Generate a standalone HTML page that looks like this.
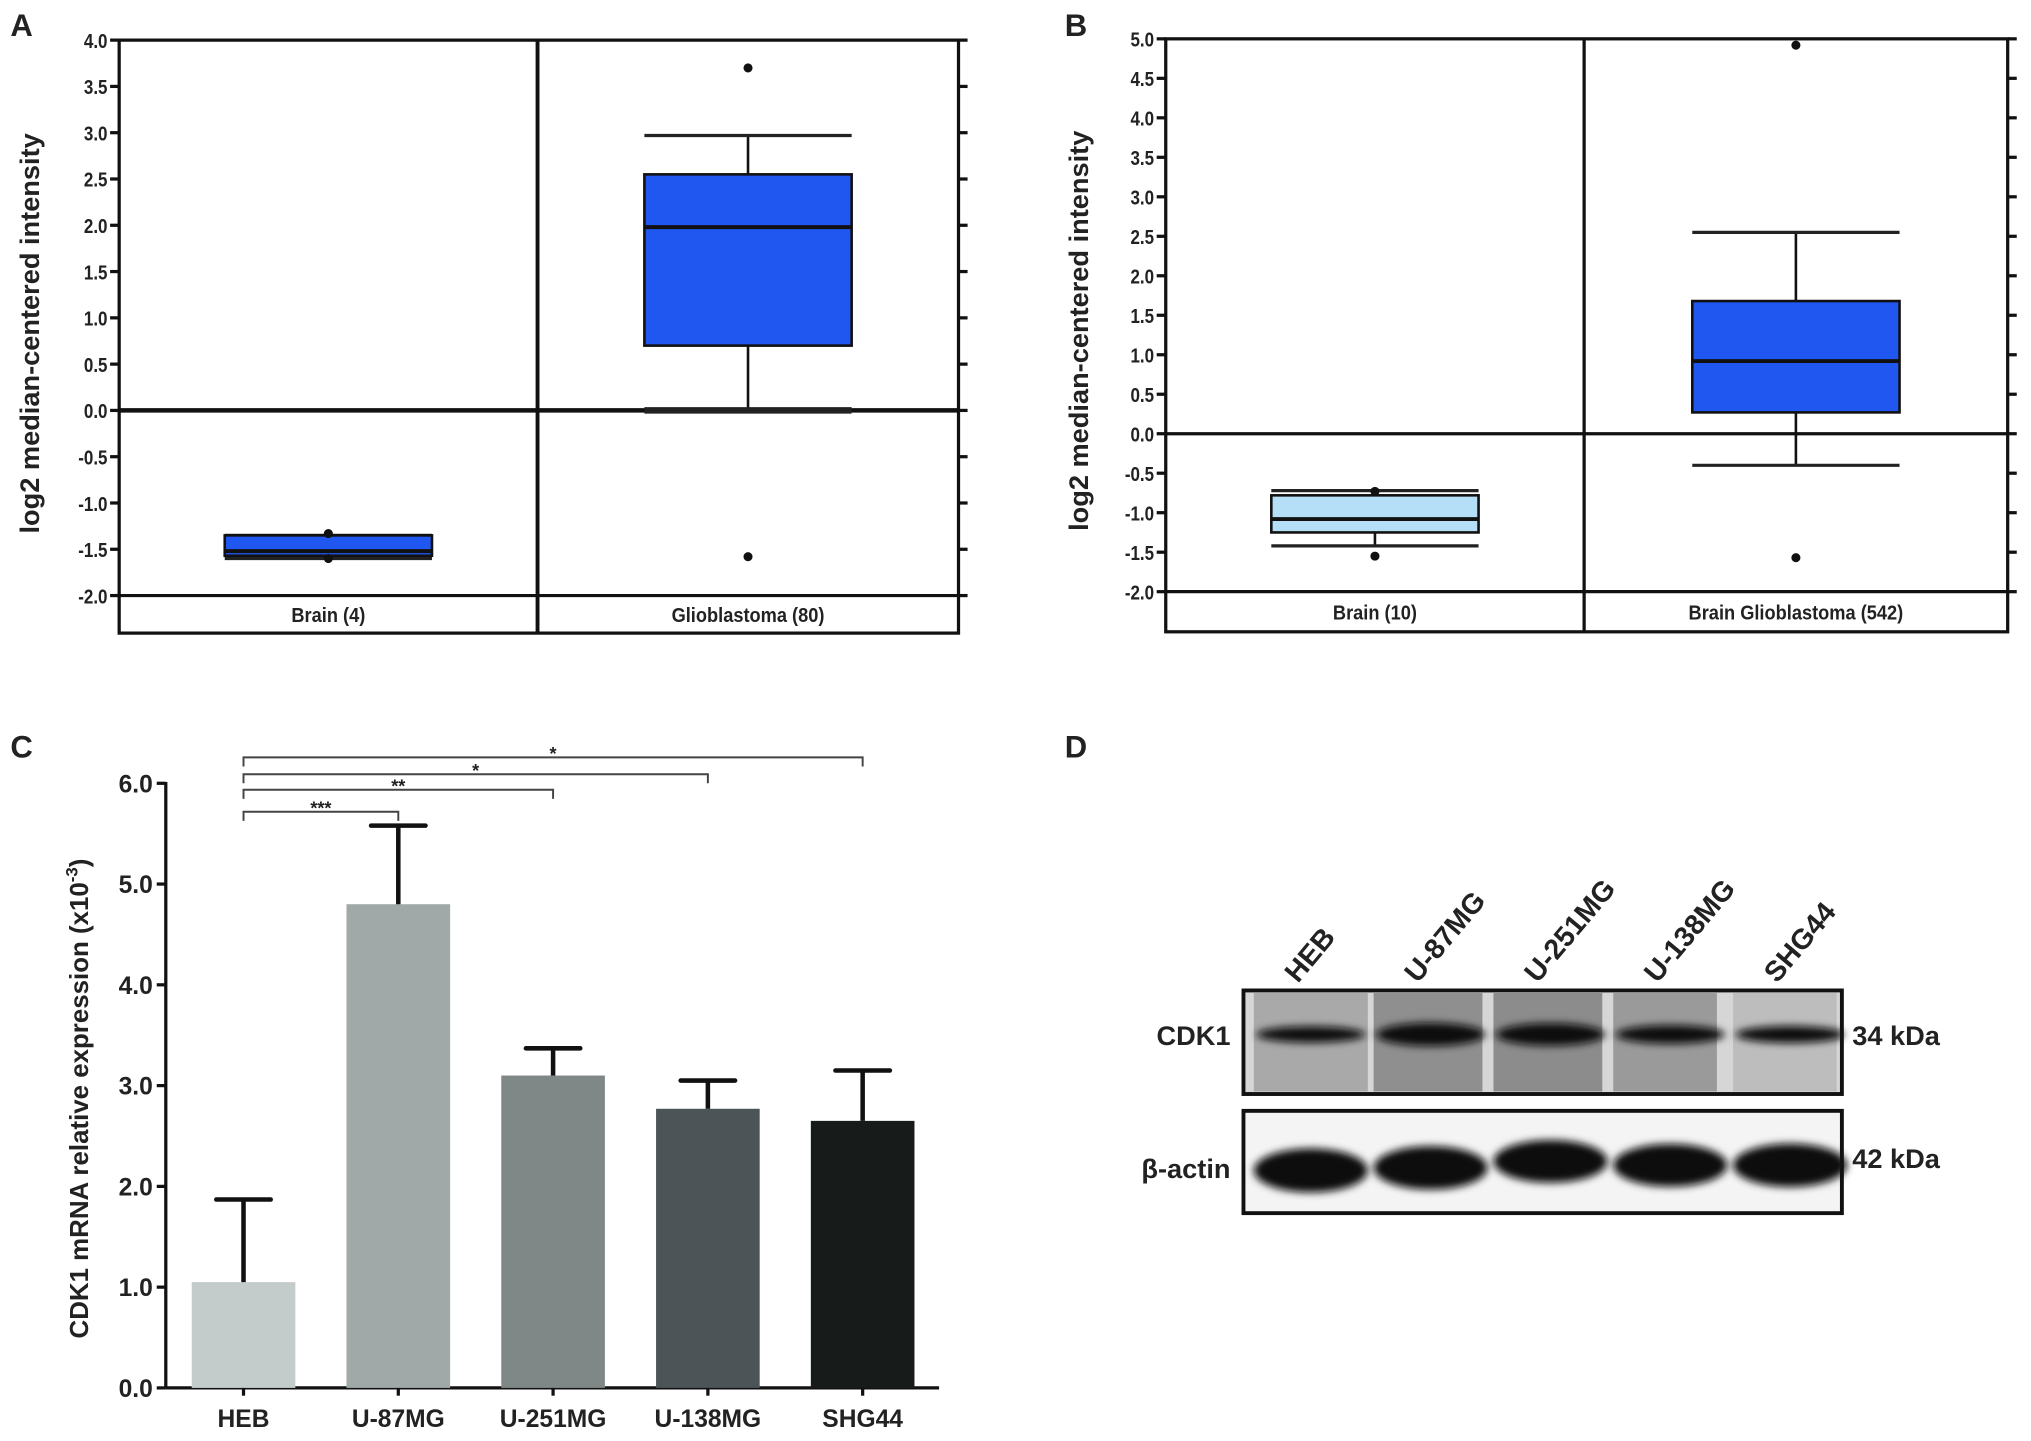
<!DOCTYPE html>
<html><head><meta charset="utf-8">
<style>
html,body{margin:0;padding:0;background:#fff;}
svg{display:block;font-family:"Liberation Sans",sans-serif;}
text{font-weight:bold;fill:#222;}
</style></head>
<body>
<svg id="fig" width="2031" height="1441" viewBox="0 0 1568 1113" preserveAspectRatio="none" xmlns="http://www.w3.org/2000/svg">
<g id="root"></g>
</svg>
<script>
// Panel A data
const aCats = ["Brain (4)", "Glioblastoma (80)"];
const aQ1 = [-1.57, 0.70];
const aQ3 = [-1.35, 2.55];
const aMed = [-1.52, 1.98];
const aWLo = [-1.60, 0.0];
const aWHi = [-1.35, 2.97];
const aOut = [[-1.33, -1.60], [3.70, -1.58]];
const aTicks = ["4.0","3.5","3.0","2.5","2.0","1.5","1.0","0.5","0.0","-0.5","-1.0","-1.5","-2.0"];
// Panel B data
const bCats = ["Brain (10)", "Brain Glioblastoma (542)"];
const bQ1 = [-1.25, 0.27];
const bQ3 = [-0.78, 1.68];
const bMed = [-1.08, 0.92];
const bWLo = [-1.42, -0.40];
const bWHi = [-0.72, 2.55];
const bOut = [[-0.73, -1.55], [4.92, -1.57]];
const bTicks = ["5.0","4.5","4.0","3.5","3.0","2.5","2.0","1.5","1.0","0.5","0.0","-0.5","-1.0","-1.5","-2.0"];
// Panel C data
const cCats = ["HEB","U-87MG","U-251MG","U-138MG","SHG44"];
const cVals = [1.05, 4.80, 3.10, 2.77, 2.65];
const cErr = [0.82, 0.78, 0.27, 0.28, 0.50];
const cTicks = ["0.0","1.0","2.0","3.0","4.0","5.0","6.0"];
const cSig = ["***","**","*","*"];
// Panel D data
const dLanes = ["HEB","U-87MG","U-251MG","U-138MG","SHG44"];
const dCdk1 = [0.55, 1.0, 0.95, 0.7, 0.6];
const dActin = [1.0, 0.95, 0.9, 0.9, 0.95];

const NS="http://www.w3.org/2000/svg";
const root=document.getElementById('root');
function mk(tag,attrs,parent){const e=document.createElementNS(NS,tag);for(const k in attrs)e.setAttribute(k,attrs[k]);(parent||root).appendChild(e);return e;}
function txt(s,attrs,parent){const e=mk('text',attrs,parent);e.textContent=s;return e;}

function boxPanel(opt){
  const g=mk('g',{});
  
  
  const {L,R,T,B0,B,D,ymax,ymin}=opt;
  const y=v=>T+(ymax-v)/(ymax-ymin)*(B0-T);
  mk('rect',{x:L,y:T,width:R-L,height:B-T,fill:'none',stroke:'#111','stroke-width':2.5},g);
  mk('line',{x1:D,y1:T,x2:D,y2:B,stroke:'#111','stroke-width':opt.divW},g);
  mk('line',{x1:L,y1:B0,x2:R,y2:B0,stroke:'#111','stroke-width':2.5},g);
  mk('line',{x1:L,y1:y(0),x2:R,y2:y(0),stroke:'#111','stroke-width':opt.zeroW},g);
  opt.ticks.forEach(t=>{const v=parseFloat(t);const yy=y(v);
    const tk=mk('line',{x1:L-7,y1:yy,x2:L,y2:yy,stroke:'#111','stroke-width':2.5},g);
    
    mk('line',{x1:R,y1:yy,x2:R+7,y2:yy,stroke:'#111','stroke-width':2.5},g);
    const lb=txt(t,{x:L-9,y:yy+6,'font-size':16,'text-anchor':'end',transform:`translate(${L-9} 0) scale(0.82 1) translate(${-(L-9)} 0)`},g);
    
  });
  const yt=txt('log2 median-centered intensity',{x:0,y:0,'font-size':21,'text-anchor':'middle',transform:`translate(${opt.ytx} ${(T+B0)/2+12}) rotate(-90)`},g);
  
  const centers=[(L+D)/2,(D+R)/2];
  opt.cats.forEach((c,i)=>{
    const cx=centers[i], hw=80;
    const gg=mk('g',{},g);
    
    
    mk('line',{x1:cx,y1:y(opt.whi[i]),x2:cx,y2:y(opt.wlo[i]),stroke:'#111','stroke-width':2},gg);
    mk('line',{x1:cx-hw,y1:y(opt.whi[i]),x2:cx+hw,y2:y(opt.whi[i]),stroke:'#222','stroke-width':2.5},gg);
    mk('line',{x1:cx-hw,y1:y(opt.wlo[i]),x2:cx+hw,y2:y(opt.wlo[i]),stroke:'#222','stroke-width':opt.wlo[i]===0?5:2.5},gg);
    mk('rect',{x:cx-hw,y:y(opt.q3[i]),width:2*hw,height:y(opt.q1[i])-y(opt.q3[i]),fill:opt.fills[i],stroke:'#111','stroke-width':2},gg);
    mk('line',{x1:cx-hw,y1:y(opt.med[i]),x2:cx+hw,y2:y(opt.med[i]),stroke:'#111','stroke-width':3},gg);
    opt.out[i].forEach(v=>{const d=mk('circle',{cx:cx,cy:y(v),r:3.5,fill:'#111'},gg);});
    const cl=txt(c,{x:cx,y:(B0+B)/2+6,'font-size':16,'text-anchor':'middle',transform:`translate(${cx} 0) scale(0.88 1) translate(${-cx} 0)`},g);
    
  });
  const pl=txt(opt.letter,{x:opt.lx,y:28,'font-size':24},g);
  
}
boxPanel({name:'panel-a-boxplot',letter:'A',lx:8,L:92,R:740,T:31,B0:460,B:489,D:415,ymax:4,ymin:-2,ticks:aTicks,cats:aCats,q1:aQ1,q3:aQ3,med:aMed,wlo:aWLo,whi:aWHi,out:aOut,fills:['#1f57f0','#1f57f0'],ytx:30,divW:3,zeroW:3.5});
boxPanel({name:'panel-b-boxplot',letter:'B',lx:822,L:900,R:1550,T:30,B0:457,B:488,D:1223,ymax:5,ymin:-2,ticks:bTicks,cats:bCats,q1:bQ1,q3:bQ3,med:bMed,wlo:bWLo,whi:bWHi,out:bOut,fills:['#b4dff6','#1f57f0'],ytx:840,divW:2.5,zeroW:2.5});

// Panel C
(function(){
  const g=mk('g',{});
  
  
  const X0=128,X1=725,Y0=1072,Y6=605;
  const y=v=>Y0-(v/6)*(Y0-Y6);
  const bx=i=>188+i*119.5;
  const colors=['#c4cccb','#a0a9a8','#7f8887','#4c5457','#171b1a'];
  mk('line',{x1:X0,y1:Y6-1,x2:X0,y2:Y0,stroke:'#111','stroke-width':2.5},g);
  mk('line',{x1:X0,y1:Y0,x2:X1,y2:Y0,stroke:'#111','stroke-width':2.5},g);
  cTicks.forEach(t=>{const yy=y(parseFloat(t));
    mk('line',{x1:X0-7,y1:yy,x2:X0,y2:yy,stroke:'#111','stroke-width':2.5},g);
    const l=txt(t,{x:X0-10,y:yy+7,'font-size':19,'text-anchor':'end'},g);
    });
  cCats.forEach((c,i)=>{
    const cx=bx(i);
    const r=mk('rect',{x:cx-40,y:y(cVals[i]),width:80,height:Y0-y(cVals[i]),fill:colors[i]},g);
    
    
    const top=y(cVals[i]+cErr[i]);
    mk('line',{x1:cx,y1:y(cVals[i]),x2:cx,y2:top,stroke:'#111','stroke-width':3.5},g);
    const eb=mk('line',{x1:cx-21,y1:top,x2:cx+21,y2:top,stroke:'#111','stroke-width':3.5,'stroke-linecap':'round'},g);
    
    mk('line',{x1:cx,y1:Y0,x2:cx,y2:Y0+6,stroke:'#111','stroke-width':2.5},g);
    const l=txt(c,{x:cx,y:1102,'font-size':19,'text-anchor':'middle'},g);
    
  });
  const ys=[627,610,598,585];
  cSig.forEach((s,i)=>{
    const x2=bx(i+1), yy=ys[i];
    const p=mk('path',{d:`M${bx(0)} ${yy+7} V${yy} H${x2} V${yy+7}`,fill:'none',stroke:'#444','stroke-width':1.5},g);
    
    txt(s,{x:(bx(0)+x2)/2,y:yy+2,'font-size':14,'text-anchor':'middle'},g);
  });
  const yt=mk('text',{x:0,y:0,'font-size':20,'text-anchor':'middle',transform:`translate(68 ${(Y0+Y6)/2+10}) rotate(-90)`},g);
  
  yt.innerHTML='CDK1 mRNA relative expression (x10<tspan dy="-8" font-size="13">-3</tspan><tspan dy="8">)</tspan>';
  const pl=txt('C',{x:8,y:585,'font-size':24},g);
  
})();

// Panel D
(function(){
  const g=mk('g',{});
  
  
  const lx=i=>1012+i*92.5;
  const defs=mk('defs',{},g);
  const f=mk('filter',{id:'blur',x:'-20%',y:'-50%',width:'140%',height:'200%'},defs);
  mk('feGaussianBlur',{stdDeviation:3},f);
  const b1=mk('g',{},g);
  
  
  mk('rect',{x:960,y:765,width:462,height:80,fill:'#d6d6d6'},b1);
  dLanes.forEach((n,i)=>{
    mk('rect',{x:lx(i)-44,y:767,width:[88,84,84,80,80][i],height:76,fill:['#a9a9a9','#8f8f8f','#8c8c8c','#9a9a9a','#bdbdbd'][i]},b1);
    const h=6+dCdk1[i]*12;
    const e=mk('ellipse',{cx:lx(i),cy:799,rx:42,ry:h/2,fill:'#0d0d0d',filter:'url(#blur)'},b1);
    
  });
  mk('rect',{x:960,y:765,width:462,height:80,fill:'none',stroke:'#111','stroke-width':3},b1);
  const b2=mk('g',{},g);
  
  
  mk('rect',{x:960,y:858,width:462,height:79,fill:'#f4f4f4'},b2);
  dLanes.forEach((n,i)=>{
    const e=mk('ellipse',{cx:lx(i),cy:[904,902,897,900,900][i],rx:44,ry:12+dActin[i]*5,fill:'#0a0a0a',filter:'url(#blur)'},b2);
    
  });
  mk('rect',{x:960,y:858,width:462,height:79,fill:'none',stroke:'#111','stroke-width':3},b2);
  dLanes.forEach((n,i)=>{
    const l=txt(n,{x:0,y:0,'font-size':22,transform:`translate(${lx(i)-10} 760) rotate(-50)`},g);
    
  });
  txt('CDK1',{x:950,y:807,'font-size':21,'text-anchor':'end'},g);
  txt('β-actin',{x:950,y:910,'font-size':21,'text-anchor':'end'},g);
  txt('34 kDa',{x:1430,y:807,'font-size':21},g);
  txt('42 kDa',{x:1430,y:902,'font-size':21},g);
  const pl=txt('D',{x:822,y:585,'font-size':24},g);
  
})();
</script>
</body></html>
